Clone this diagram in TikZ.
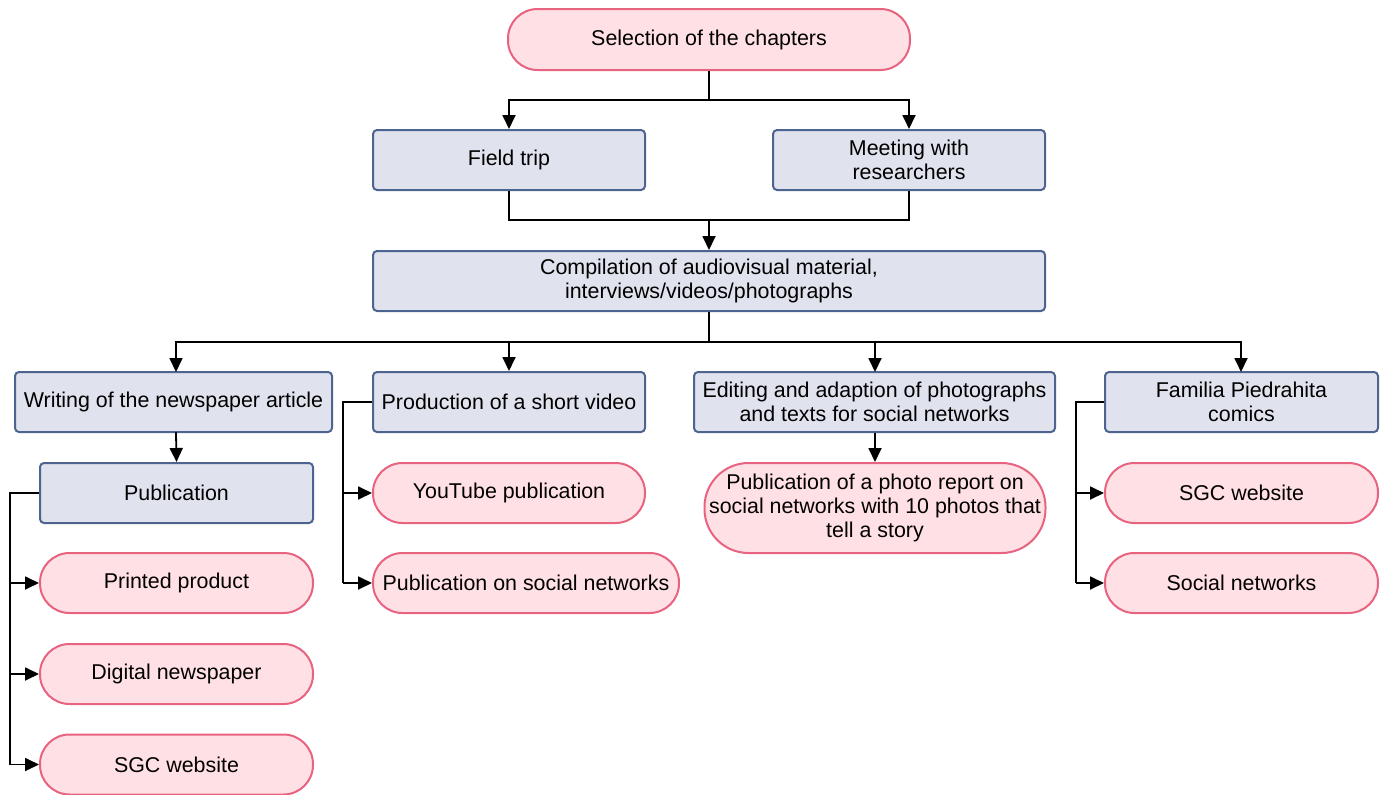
\documentclass[tikz,border=0pt]{standalone}
\usepackage{fontspec}
\setmainfont{Liberation Sans}
\usetikzlibrary{arrows.meta}
\definecolor{pinkfill}{HTML}{FFE0E4}
\definecolor{pinkline}{HTML}{E8637F}
\definecolor{bluefill}{HTML}{E0E3EE}
\definecolor{blueline}{HTML}{4D6390}
\begin{document}
\begin{tikzpicture}[x=1pt,y=-1pt,
  font=\fontsize{21.4}{24}\selectfont,
  base/.style={draw,line width=2pt,inner sep=0pt,align=center},
  bbox/.style={base,fill=bluefill,draw=blueline,rounded corners=4pt},
  pill/.style={base,fill=pinkfill,draw=pinkline,rounded corners=29.5pt},
  conn/.style={line width=1.8pt,black},
  arr/.style={conn,-{Stealth[length=14pt,width=13pt,inset=0pt]}}]
\useasboundingbox (0,0) rectangle (1385,795);
% nodes
\node[pill,minimum width=402pt,minimum height=61pt] (sel) at (709,39.5) {Selection of the chapters};
\node[bbox,minimum width=272pt,minimum height=60pt] (field) at (509,160) {Field trip};
\node[bbox,minimum width=272pt,minimum height=60pt] (meet) at (909,160) {Meeting with\\researchers};
\node[bbox,minimum width=672pt,minimum height=60pt] (comp) at (709,281) {Compilation of audiovisual material,\\interviews/videos/photographs};
\node[bbox,minimum width=317pt,minimum height=60pt] (writ) at (173.5,402) {Writing of the newspaper article};
\node[bbox,minimum width=272pt,minimum height=60pt] (prod) at (509,402) {Production of a short video};
\node[bbox,minimum width=361pt,minimum height=60pt] (edit) at (874.5,402) {Editing and adaption of photographs\\and texts for social networks};
\node[bbox,minimum width=273pt,minimum height=60pt] (fam) at (1241.5,402) {Familia Piedrahita\\comics};
\node[bbox,minimum width=273pt,minimum height=60pt] (pub) at (176.5,493) {Publication};
\node[pill,minimum width=273pt,minimum height=60pt] (print) at (176.5,583) {Printed product};
\node[pill,minimum width=273pt,minimum height=60pt] (dig) at (176.5,674) {Digital newspaper};
\node[pill,minimum width=273pt,minimum height=60pt] (sgc1) at (176.5,764.5) {SGC website};
\node[pill,minimum width=272pt,minimum height=60pt] (yt) at (509,493) {YouTube publication};
\node[pill,minimum width=306pt,minimum height=60pt] (psn) at (526,583) {Publication on social networks};
\node[pill,minimum width=341pt,minimum height=90pt,rounded corners=44pt] (photo) at (875,508) {Publication of a photo report on\\social networks with 10 photos that\\tell a story};
\node[pill,minimum width=273pt,minimum height=60pt] (sgc2) at (1241.5,493) {SGC website};
\node[pill,minimum width=273pt,minimum height=60pt] (soc) at (1241.5,583) {Social networks};
% junction coordinates
\coordinate (j1) at (709,100);
\coordinate (j2) at (709,220);
\coordinate (j3) at (709,342);
\coordinate (lx1) at (10,493);
\coordinate (lx2) at (343,402);
\coordinate (lx3) at (1076,402);
% connectors
\draw[conn] (sel.south) -- (j1);
\draw[arr] (j1) -| (field.north);
\draw[arr] (j1) -| (meet.north);
\draw[conn] (field.south) |- (j2);
\draw[conn] (meet.south) |- (j2);
\draw[arr] (j2) -- (comp.north);
\draw[conn] (comp.south) -- (j3);
\draw[arr] (j3) -| (176,372);
\draw[arr] (j3) -| (prod.north);
\draw[arr] (j3) -| (875,372);
\draw[arr] (j3) -| (1241,372);
\draw[arr] (176,432) -- (pub.north);
\draw[arr] (edit.south -| photo.north) -- (photo.north);
\draw[conn] (pub.west) -- (lx1) -- (lx1 |- sgc1.west);
\draw[arr] (lx1 |- print.west) -- (print.west);
\draw[arr] (lx1 |- dig.west) -- (dig.west);
\draw[arr] (lx1 |- sgc1.west) -- (sgc1.west);
\draw[conn] (prod.west) -- (lx2) -- (lx2 |- psn.west);
\draw[arr] (lx2 |- yt.west) -- (yt.west);
\draw[arr] (lx2 |- psn.west) -- (psn.west);
\draw[conn] (fam.west) -- (lx3) -- (lx3 |- soc.west);
\draw[arr] (lx3 |- sgc2.west) -- (sgc2.west);
\draw[arr] (lx3 |- soc.west) -- (soc.west);
\end{tikzpicture}
\end{document}
